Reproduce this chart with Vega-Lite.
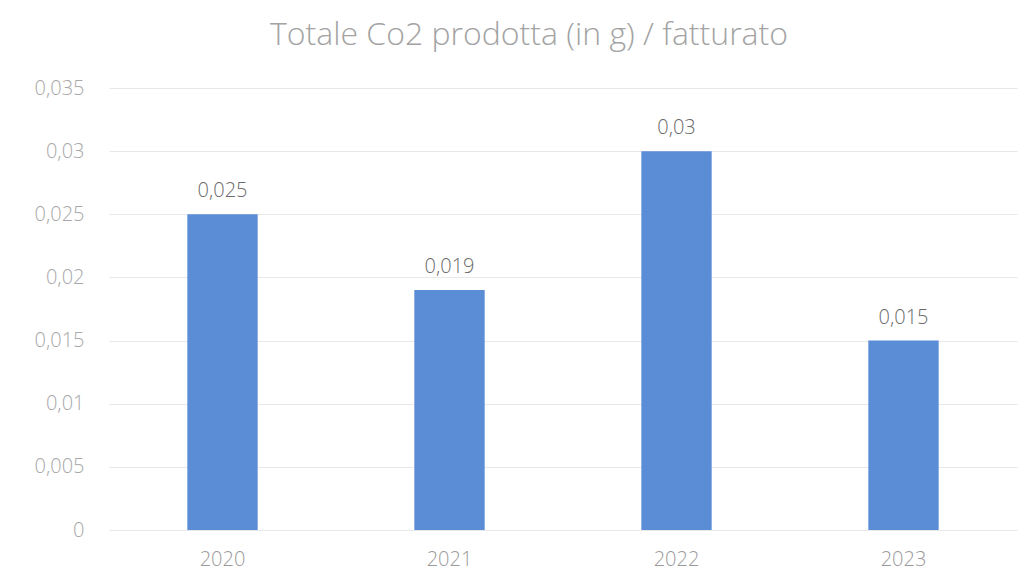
{
  "$schema": "https://vega.github.io/schema/vega-lite/v6.json",
  "width": 908,
  "height": 442,
  "autosize": {"type": "none"},
  "padding": {"left": 109, "top": 88, "right": 18, "bottom": 41},
  "background": "white",
  "title": {
    "text": "Totale Co2 prodotta (in g) / fatturato",
    "font": "Open Sans",
    "fontSize": 32,
    "fontWeight": 300,
    "color": "#a3a3a3",
    "anchor": "middle",
    "dx": -34,
    "offset": 26
  },
  "data": {
    "values": [
      {"anno": "2020", "valore": 0.025},
      {"anno": "2021", "valore": 0.019},
      {"anno": "2022", "valore": 0.03},
      {"anno": "2023", "valore": 0.015}
    ]
  },
  "encoding": {
    "x": {
      "field": "anno",
      "type": "ordinal",
      "scale": {"paddingInner": 0.69, "paddingOuter": 0.345},
      "axis": {
        "title": null,
        "labelAngle": 0,
        "domain": false,
        "ticks": false,
        "labelPadding": 19,
        "labelFont": "Open Sans",
        "labelFontSize": 20,
        "labelFontWeight": 300,
        "labelColor": "#9a9a9a"
      }
    },
    "y": {
      "field": "valore",
      "type": "quantitative",
      "scale": {"domain": [0, 0.035]},
      "axis": {
        "title": null,
        "values": [0, 0.005, 0.01, 0.015, 0.02, 0.025, 0.03, 0.035],
        "format": "~g",
        "domain": false,
        "ticks": false,
        "labelPadding": 25,
        "labelFont": "Open Sans",
        "labelFontSize": 20,
        "labelFontWeight": 300,
        "labelColor": "#a8a8a8",
        "gridColor": "#e8e8e8",
        "gridWidth": 1.2
      }
    }
  },
  "layer": [
    {"mark": {"type": "bar", "color": "#5b8dd6"}},
    {
      "mark": {"type": "text", "dy": -17, "baseline": "alphabetic", "font": "Open Sans", "fontSize": 20, "fontWeight": 300, "color": "#6a6a6a"},
      "encoding": {"text": {"field": "valore", "type": "quantitative", "format": "~g"}}
    }
  ],
  "config": {
    "view": {"stroke": null},
    "locale": {"number": {"decimal": ",", "thousands": ".", "grouping": [3], "currency": ["€", ""]}}
  }
}
